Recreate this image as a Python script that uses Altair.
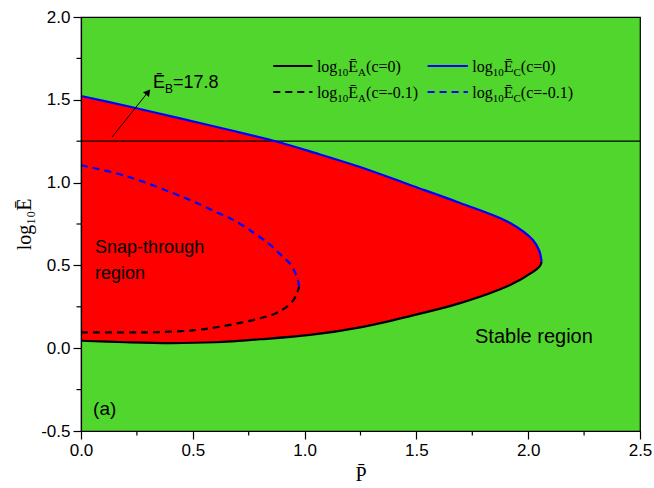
import math
import altair as alt
import pandas as pd

# ---------------- data ----------------
# c = 0 : upper boundary (E_C) and lower boundary (E_A)
P_EC_c0 = [0.0, 0.2, 0.443, 0.65, 0.877, 1.05, 1.248, 1.471, 1.695, 1.919, 2.021, 2.049, 2.06]
EC_c0 = [1.523, 1.464, 1.388, 1.322, 1.247, 1.178, 1.094, 0.986, 0.877, 0.756, 0.653, 0.59, 0.522]
P_EA_c0 = [0.0, 0.2, 0.4, 0.6, 0.8, 1.024, 1.248, 1.471, 1.695, 1.919, 2.023, 2.052, 2.06]
EA_c0 = [0.045, 0.036, 0.031, 0.036, 0.054, 0.080, 0.126, 0.194, 0.272, 0.382, 0.462, 0.495, 0.522]

# c = -0.1
P_EC_m01 = [0.0, 0.2, 0.46, 0.6, 0.7, 0.78, 0.845, 0.9, 0.935, 0.96, 0.972, 0.975]
EC_m01 = [1.105, 1.04, 0.91, 0.825, 0.76, 0.69, 0.625, 0.555, 0.51, 0.45, 0.40, 0.37]
P_EA_m01 = [0.0, 0.2, 0.35, 0.5, 0.6, 0.7, 0.8, 0.87, 0.92, 0.95, 0.967, 0.975]
EA_m01 = [0.096, 0.096, 0.097, 0.108, 0.125, 0.15, 0.18, 0.21, 0.25, 0.29, 0.335, 0.37]

E_B = 17.8
x_major = [0.0, 0.5, 1.0, 1.5, 2.0, 2.5]
x_minor = [0.25, 0.75, 1.25, 1.75, 2.25]
y_major = [-0.5, 0.0, 0.5, 1.0, 1.5, 2.0]
y_minor = [-0.25, 0.25, 0.75, 1.25, 1.75]

GREEN = "#50D62C"
RED = "#FF0000"
BLUE = "#0000FF"

W, H = 559, 414
X0, X1 = 0.0, 2.5
Y0, Y1 = -0.5, 2.0
PXX = W / (X1 - X0)
PXY = H / (Y1 - Y0)

xs = alt.Scale(domain=[X0, X1], nice=False, zero=False)
ys = alt.Scale(domain=[Y0, Y1], nice=False, zero=False)

# the other layers share the scales and leave the axes to the first layer
X = lambda f: alt.X(f, scale=xs)
Y = lambda f: alt.Y(f, scale=ys)

lab = "replace(format(datum.value, '.1f'), '\u2212', '-')"

# invisible layer that carries the axes
axes_df = pd.DataFrame({"P": x_major, "E": y_major})
axes_layer = alt.Chart(axes_df).mark_point(opacity=0).encode(
    x=alt.X("P:Q", scale=xs, title="P\u0304",
            axis=alt.Axis(values=x_major, labelExpr=lab, tickSize=8, orient="bottom",
                          labelFlush=False, titlePadding=6, labelPadding=3, grid=False, zindex=1)),
    y=alt.Y("E:Q", scale=ys, title="log\u2081\u2080\u0112",
            axis=alt.Axis(values=y_major, labelExpr=lab, tickSize=8, orient="left",
                          labelFlush=False, titlePadding=6, labelPadding=3, grid=False, zindex=1)),
)

# red snap-through region: closed boundary (lower curve out, upper curve back)
poly = pd.DataFrame({
    "P": P_EA_c0 + P_EC_c0[::-1],
    "E": EA_c0 + EC_c0[::-1],
    "o": list(range(len(P_EA_c0) + len(P_EC_c0))),
})
region = alt.Chart(poly).mark_line(filled=True, color=RED, interpolate="catmull-rom").encode(
    x=X("P:Q"), y=Y("E:Q"), order="o:Q")

rule_eb = alt.Chart(pd.DataFrame({"y": [math.log10(E_B)]})).mark_rule(
    color="black", strokeWidth=1.2).encode(y=Y("y:Q"))


def curve(P, E, color, dash=None):
    df = pd.DataFrame({"P": P, "E": E, "o": list(range(len(P)))})
    kw = dict(color=color, strokeWidth=2.2, interpolate="catmull-rom")
    if dash:
        kw["strokeDash"] = dash
    return alt.Chart(df).mark_line(**kw).encode(x=X("P:Q"), y=Y("E:Q"), order="o:Q")


blue_c0 = curve(P_EC_c0, EC_c0, BLUE)
black_c0 = curve(P_EA_c0, EA_c0, "black")
blue_m01 = curve(P_EC_m01, EC_m01, BLUE, [7, 5])
black_m01 = curve(P_EA_m01, EA_m01, "black", [7, 5])

# minor ticks (outside the frame, like the reference's axis)
minor_x = alt.Chart(pd.DataFrame({"v": x_minor, "a": [Y0] * len(x_minor),
                                  "b": [Y0 - 4.5 / PXY] * len(x_minor)})).mark_rule(
    color="black", strokeWidth=1.2).encode(x=X("v:Q"), y=Y("a:Q"), y2="b:Q")
minor_y = alt.Chart(pd.DataFrame({"v": y_minor, "a": [X0] * len(y_minor),
                                  "b": [X0 - 4.5 / PXX] * len(y_minor)})).mark_rule(
    color="black", strokeWidth=1.2).encode(y=Y("v:Q"), x=X("a:Q"), x2="b:Q")

# ---------------- legend ----------------
leg_cols = [(0.86, 1.035, 1.055), (1.55, 1.73, 1.75)]
leg_rows = [1.704, 1.547]


def leg_rule(row, dash=None):
    df = pd.DataFrame({"x": [leg_cols[0][0], leg_cols[1][0]],
                       "x2": [leg_cols[0][1], leg_cols[1][1]],
                       "y": [leg_rows[row]] * 2, "c": ["black", BLUE]})
    kw = dict(strokeWidth=2.2)
    if dash:
        kw["strokeDash"] = dash
    return alt.Chart(df).mark_rule(**kw).encode(
        x=X("x:Q"), x2="x2:Q", y=Y("y:Q"), color=alt.Color("c:N", scale=None))


TIMES = {'l': .278, 'o': .5, 'g': .5, '1': .5, '0': .5, '\u0112': .611, 'A': .722, 'C': .667,
         '(': .333, ')': .333, 'c': .444, '=': .564, '-': .333, '.': .25}
ARIAL = {'\u0112': .667, 'B': .667, '=': .584, '1': .556, '7': .556, '.': .278, '8': .556}


def segs(parts, x, y, widths, size, sub_size, drop_px):
    rows = []
    cur = 0.0
    for text, sub in parts:
        s = sub_size if sub else size
        rows.append({"x": x + cur / PXX, "y": y - (drop_px / PXY if sub else 0.0), "t": text, "s": s})
        cur += sum(widths.get(ch, .5) for ch in text) * s
    return rows


leg_txt = []
for col, sub_letter in ((0, "A"), (1, "C")):
    for row, cval in ((0, "(c=0)"), (1, "(c=-0.1)")):
        base = leg_rows[row] - 5.5 / PXY
        leg_txt += segs([("log", False), ("10", True), ("\u0112", False), (sub_letter, True), (cval, False)],
                        leg_cols[col][2], base, TIMES, 16, 11, 4)


def seg_text(rows, font):
    return alt.Chart(pd.DataFrame(rows)).mark_text(
        align="left", baseline="alphabetic", font=font, color="black").encode(
        x=X("x:Q"), y=Y("y:Q"), text="t:N", size=alt.Size("s:Q", scale=None))


leg_text = seg_text(leg_txt, "Liberation Serif")

# ---------------- annotations ----------------
eb_text = seg_text(segs([("\u0112", False), ("B", True), ("=17.8", False)], 0.322, 1.571, ARIAL, 18, 12, 5),
                   "Liberation Sans")

arrow_from = (0.139, 1.275)
arrow_to = (0.30, 1.547)
arrow_line = alt.Chart(pd.DataFrame({"x": [arrow_from[0]], "y": [arrow_from[1]],
                                     "x2": [arrow_to[0]], "y2": [arrow_to[1]]})).mark_rule(
    color="black", strokeWidth=1).encode(x=X("x:Q"), y=Y("y:Q"), x2="x2:Q", y2="y2:Q")
ang = math.degrees(math.atan2((arrow_to[0] - arrow_from[0]) * PXX, (arrow_to[1] - arrow_from[1]) * PXY))
arrow_head = alt.Chart(pd.DataFrame({"x": [arrow_to[0]], "y": [arrow_to[1]]})).mark_point(
    shape="triangle-up", filled=True, color="black", opacity=1, size=60, angle=round(ang)).encode(
    x=X("x:Q"), y=Y("y:Q"))

labels = pd.DataFrame({
    "x": [0.063, 0.063, 1.762, 0.054],
    "y": [0.605, 0.448, 0.068, -0.367],
    "t": ["Snap-through", "region", "Stable region", "(a)"],
    "s": [18, 18, 20, 19],
})
label_text = alt.Chart(labels).mark_text(
    align="left", baseline="middle", font="Liberation Sans", color="black").encode(
    x=X("x:Q"), y=Y("y:Q"), text="t:N", size=alt.Size("s:Q", scale=None))

chart = alt.layer(
    axes_layer, region, rule_eb, black_m01, blue_m01, black_c0, blue_c0,
    minor_x, minor_y,
    leg_rule(0), leg_rule(1, [7, 5]), leg_text,
    arrow_line, arrow_head, eb_text, label_text,
).properties(
    width=W, height=H,
    autosize=alt.AutoSizeParams(type="none"),
    padding={"left": 81, "top": 17, "right": 14, "bottom": 57},
    background="white",
).configure_view(
    fill=GREEN, stroke="black", strokeWidth=1.2,
).configure_axis(
    domainColor="black", tickColor="black", labelColor="black", titleColor="black",
    labelFont="Liberation Sans", labelFontSize=17,
    titleFont="Liberation Serif", titleFontSize=20, titleFontWeight="normal",
    domainWidth=1.2, tickWidth=1.2, grid=False,
)

chart.save("out.html", embed_options={"renderer": "svg", "actions": False})
